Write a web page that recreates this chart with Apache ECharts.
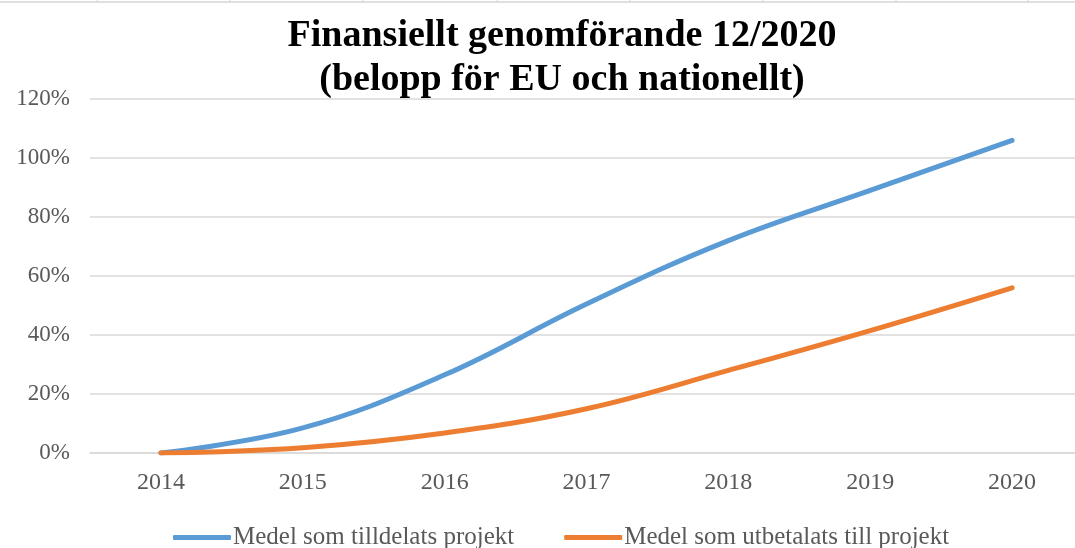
<!DOCTYPE html>
<html>
<head>
<meta charset="utf-8">
<script src="https://cdn.jsdelivr.net/npm/echarts@6/dist/echarts.min.js"></script>
<style>
  html, body { margin: 0; padding: 0; background: #fff; }
  #chart { width: 1075px; height: 548px; }
</style>
</head>
<body>
<div id="chart"></div>
<script>
const YEARS = ['2014', '2015', '2016', '2017', '2018', '2019', '2020'];
const TILLDELATS = [0, 8.5, 26.5, 50.5, 72, 89, 106];
const UTBETALATS = [0, 1.8, 6.8, 15, 28, 41.5, 56];
const SERIES_NAMES = ['Medel som tilldelats projekt', 'Medel som utbetalats till projekt'];

const SERIF = '"Liberation Serif", "Times New Roman", serif';
const GREY = '#595959';

const chart = echarts.init(document.getElementById('chart'), null, { renderer: 'canvas' });

function line(name, data, color) {
    return {
        name,
        type: 'line',
        data,
        smooth: 0.4,
        symbol: 'none',
        lineStyle: { width: 5, color, cap: 'round' },
        itemStyle: { color },
    };
}

// faint spreadsheet cell border peeking in at the top edge
const topEdge = [{ type: 'line', shape: { x1: 0, y1: 2, x2: 1075, y2: 2 }, style: { stroke: '#d6d6d6', lineWidth: 1.5 } }];
[97, 230, 363, 497, 630, 763, 896, 1028].forEach(x => {
    topEdge.push({ type: 'line', shape: { x1: x, y1: 0, x2: x, y2: 2 }, style: { stroke: '#d6d6d6', lineWidth: 1 } });
});

chart.setOption({
    animation: false,
    backgroundColor: '#fff',
    graphic: topEdge,
    title: {
        text: 'Finansiellt genomförande 12/2020\n(belopp för EU och nationellt)',
        left: 557,
        top: 9,
        textAlign: 'center',
        textStyle: {
            fontFamily: SERIF,
            fontWeight: 'bold',
            fontSize: 38,
            lineHeight: 44,
            color: '#000',
        },
    },
    legend: {
        top: 520,
        left: 168,
        itemGap: 50,
        itemWidth: 58,
        itemHeight: 5,
        icon: 'roundRect',
        textStyle: { fontFamily: SERIF, fontSize: 25, color: GREY, padding: [0, 0, 0, -3] },
        data: SERIES_NAMES,
    },
    grid: { left: 90, top: 99, width: 993, height: 354, containLabel: false, outerBoundsMode: 'none' },
    xAxis: {
        type: 'category',
        data: YEARS,
        boundaryGap: true,
        axisLine: { lineStyle: { color: '#d9d9d9', width: 1.5 } },
        axisTick: { show: false },
        axisLabel: { fontFamily: SERIF, fontSize: 24, color: GREY, margin: 18 },
    },
    yAxis: {
        type: 'value',
        min: 0,
        max: 120,
        interval: 20,
        axisLine: { show: false },
        axisTick: { show: false },
        splitLine: { lineStyle: { color: '#d9d9d9', width: 1.5 } },
        axisLabel: { fontFamily: SERIF, fontSize: 23, color: GREY, margin: 20, formatter: '{value}%' },
    },
    series: [
        line(SERIES_NAMES[0], TILLDELATS, '#5b9bd5'),
        line(SERIES_NAMES[1], UTBETALATS, '#ed7d31'),
    ],
});
</script>
</body>
</html>
